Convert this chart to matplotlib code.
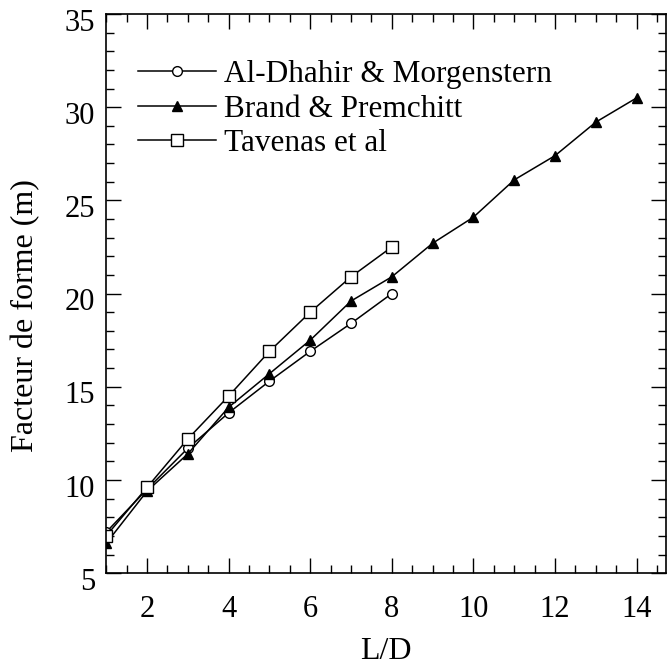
import matplotlib
matplotlib.use("Agg")
import matplotlib.pyplot as plt
import matplotlib.transforms as mtransforms
from matplotlib.ticker import MultipleLocator

# L/D ratios and shape factors (m)
ld_short = [1, 2, 3, 4, 5, 6, 7, 8]
ld_long = [1, 2, 3, 4, 5, 6, 7, 8, 9, 10, 11, 12, 13, 14]

al_dhahir = [7.2, 9.5, 11.7, 13.6, 15.3, 16.9, 18.4, 20.0]
brand = [6.6, 9.4, 11.4, 13.9, 15.7, 17.5, 19.6, 20.9, 22.7, 24.1, 26.1, 27.4, 29.2, 30.5]
tavenas = [7.0, 9.6, 12.2, 14.5, 16.9, 19.0, 20.9, 22.5]

labels = ["Al-Dhahir & Morgenstern", "Brand & Premchitt", "Tavenas et al"]

plt.rcParams['font.family'] = ['Liberation Serif', 'DejaVu Serif']

fig = plt.figure(figsize=(6.68, 6.68), dpi=100)
ax = fig.add_axes([0.159, 0.142, 0.838, 0.837])

lw = 1.1
ax.plot(ld_short, al_dhahir, '-o', color='black', lw=lw, ms=7,
        mfc='white', mec='black', mew=1.0, label=labels[0])
ax.plot(ld_long, brand, '-^', color='black', lw=lw, ms=7.5,
        mfc='black', mec='black', label=labels[1])
ax.plot(ld_short, tavenas, '-s', color='black', lw=lw, ms=8.5,
        mfc='white', mec='black', mew=1.0, label=labels[2])

ax.set_xlim(1, 14.72)
ax.set_ylim(5, 35)
ax.xaxis.set_major_locator(MultipleLocator(2))
ax.xaxis.set_minor_locator(MultipleLocator(0.5))
ax.yaxis.set_major_locator(MultipleLocator(5))
ax.yaxis.set_minor_locator(MultipleLocator(1))

ax.tick_params(which='both', direction='in', top=True, right=True, width=1.0)
ax.tick_params(which='major', length=11)
ax.tick_params(which='minor', length=6)
ax.tick_params(axis='x', which='major', labelsize=22, pad=16)
ax.tick_params(axis='y', which='major', labelsize=22, pad=8)
ax.set_xticks([2, 4, 6, 8, 10, 12, 14])

# y tick labels sit a little below their ticks
shift = mtransforms.ScaledTranslation(0, -4 / 72, fig.dpi_scale_trans)
for lab in ax.get_yticklabels():
    lab.set_transform(lab.get_transform() + shift)

for s in ax.spines.values():
    s.set_linewidth(1.2)

ax.set_xlabel("L/D", fontsize=23, labelpad=9)
ax.set_ylabel("Facteur de forme (m)", fontsize=23)
ax.yaxis.set_label_coords(-0.118, 0.46)

ax.legend(loc='upper left', bbox_to_anchor=(0.035, 0.94), frameon=False,
          fontsize=22.5, handlelength=2.5, handletextpad=0.25,
          labelspacing=0.18, borderaxespad=0.0)

fig.savefig("out.png", dpi=100)
